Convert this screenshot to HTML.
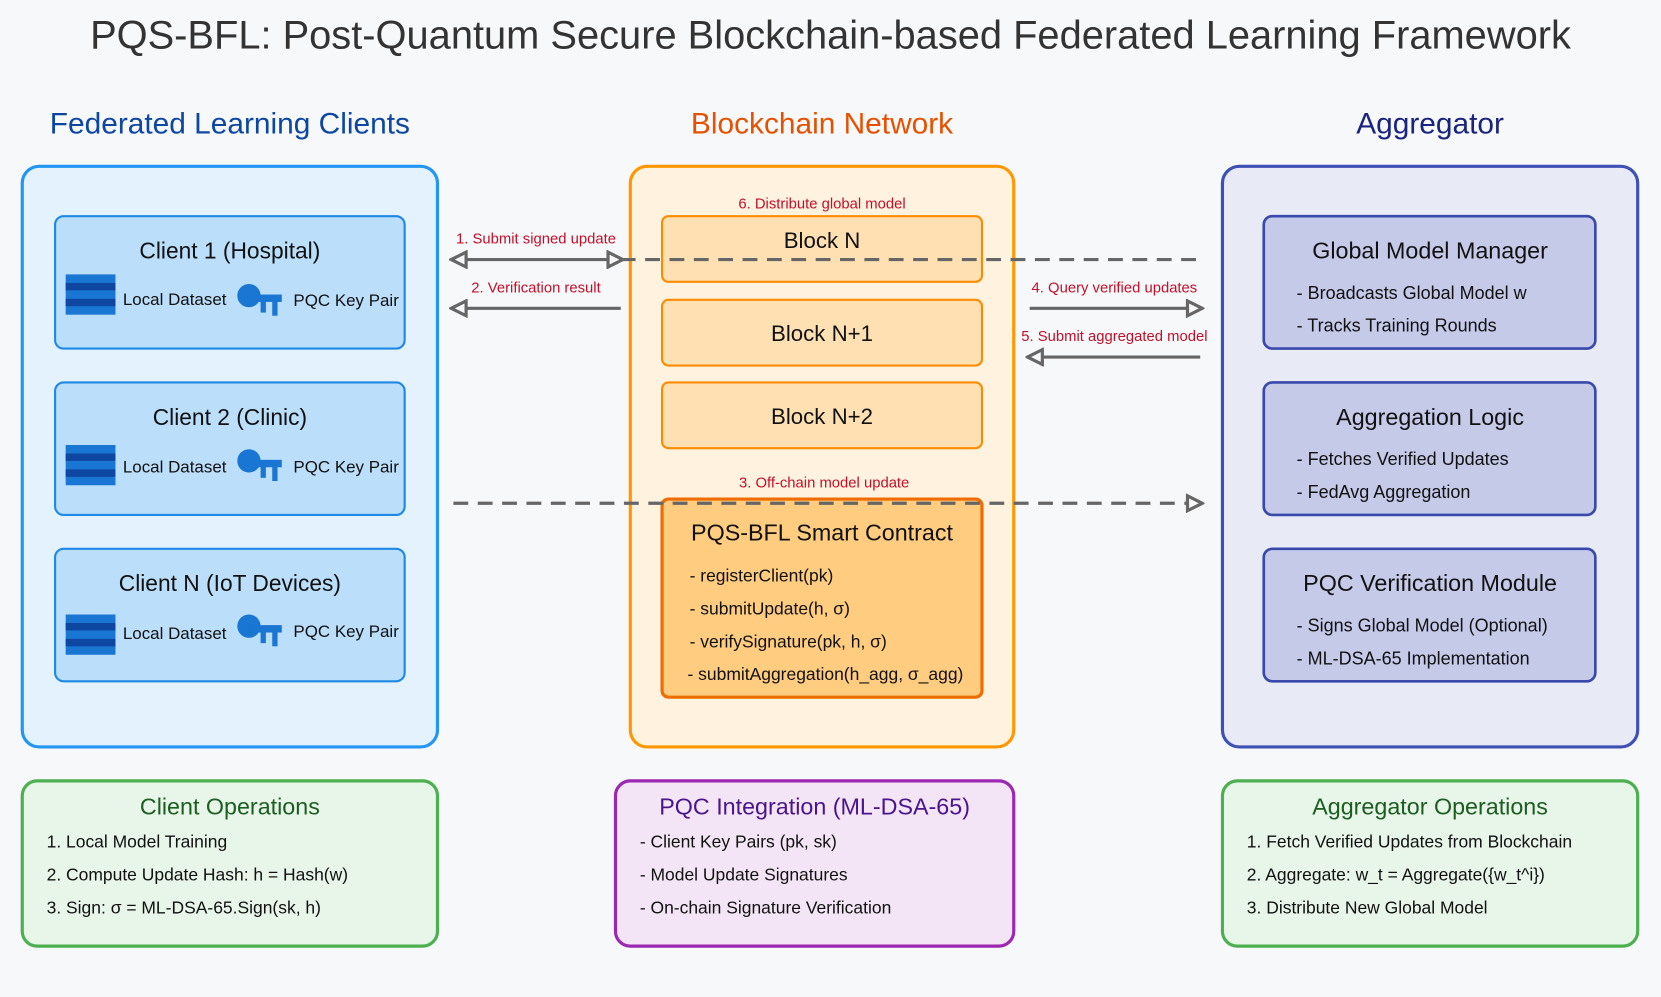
<!DOCTYPE html>
<html><head><meta charset="utf-8"><style>
html,body{margin:0;padding:0;background:#f7f8fa;}
svg{display:block;font-family:"Liberation Sans",Arial,sans-serif;}
</style></head><body>
<svg width="1661" height="997" viewBox="0 0 1568 941" preserveAspectRatio="none" xmlns="http://www.w3.org/2000/svg">
<defs>
<marker id="ah" markerWidth="18" markerHeight="18" refX="15" refY="9" orient="auto-start-reverse" markerUnits="userSpaceOnUse">
<path d="M2,2 L16,9 L2,16 Z" fill="#f7f8fa" stroke="#666" stroke-width="3"/>
</marker>
</defs>
<rect width="1568" height="941" fill="#f7f8fa"/>
<text x="784" y="46" text-anchor="middle" font-size="37.6" fill="#333">PQS-BFL: Post-Quantum Secure Blockchain-based Federated Learning Framework</text>
<text x="217" y="126" text-anchor="middle" font-size="28.2" fill="#0d47a1">Federated Learning Clients</text>
<text x="776" y="126" text-anchor="middle" font-size="28.2" fill="#e65100">Blockchain Network</text>
<text x="1350" y="126" text-anchor="middle" font-size="28.2" fill="#1a237e">Aggregator</text>

<!-- clients -->
<rect x="21" y="157" width="392" height="548" rx="16" fill="#e3f2fd" stroke="#2196f3" stroke-width="3"/>
<g font-size="16" fill="#111">
<rect x="52" y="204" width="330" height="125" rx="8" fill="#bbdefb" stroke="#1e88e5" stroke-width="2"/>
<text x="217" y="244" text-anchor="middle" font-size="21.5">Client 1 (Hospital)</text>
<rect x="62" y="259" width="47" height="38" fill="#1976d2"/><rect x="62" y="267" width="47" height="7" fill="#0d47a1"/><rect x="62" y="282" width="47" height="7" fill="#0d47a1"/>
<text x="116" y="288">Local Dataset</text>
<circle cx="235" cy="279" r="11" fill="#1976d2"/><rect x="235" y="278" width="31" height="7" fill="#1976d2"/><rect x="246" y="280" width="5" height="15" fill="#1976d2"/><rect x="257" y="280" width="5" height="18" fill="#1976d2"/>
<text x="277" y="289">PQC Key Pair</text>

<rect x="52" y="361" width="330" height="125" rx="8" fill="#bbdefb" stroke="#1e88e5" stroke-width="2"/>
<text x="217" y="401" text-anchor="middle" font-size="21.5">Client 2 (Clinic)</text>
<rect x="62" y="420" width="47" height="38" fill="#1976d2"/><rect x="62" y="428" width="47" height="7" fill="#0d47a1"/><rect x="62" y="443" width="47" height="7" fill="#0d47a1"/>
<text x="116" y="446">Local Dataset</text>
<circle cx="235" cy="435" r="11" fill="#1976d2"/><rect x="235" y="434" width="31" height="7" fill="#1976d2"/><rect x="246" y="436" width="5" height="15" fill="#1976d2"/><rect x="257" y="436" width="5" height="18" fill="#1976d2"/>
<text x="277" y="446">PQC Key Pair</text>

<rect x="52" y="518" width="330" height="125" rx="8" fill="#bbdefb" stroke="#1e88e5" stroke-width="2"/>
<text x="217" y="558" text-anchor="middle" font-size="21.5">Client N (IoT Devices)</text>
<rect x="62" y="580" width="47" height="38" fill="#1976d2"/><rect x="62" y="588" width="47" height="7" fill="#0d47a1"/><rect x="62" y="603" width="47" height="7" fill="#0d47a1"/>
<text x="116" y="603">Local Dataset</text>
<circle cx="235" cy="591" r="11" fill="#1976d2"/><rect x="235" y="590" width="31" height="7" fill="#1976d2"/><rect x="246" y="592" width="5" height="15" fill="#1976d2"/><rect x="257" y="592" width="5" height="18" fill="#1976d2"/>
<text x="277" y="601">PQC Key Pair</text>
</g>

<!-- blockchain -->
<rect x="595" y="157" width="362" height="548" rx="16" fill="#fff3e0" stroke="#ff9800" stroke-width="3"/>
<g font-size="21" fill="#111" text-anchor="middle">
<rect x="625" y="204" width="302" height="62" rx="6" fill="#ffe0b2" stroke="#fb8c00" stroke-width="2"/>
<text x="776" y="234">Block N</text>
<rect x="625" y="283" width="302" height="62" rx="6" fill="#ffe0b2" stroke="#fb8c00" stroke-width="2"/>
<text x="776" y="322">Block N+1</text>
<rect x="625" y="361" width="302" height="62" rx="6" fill="#ffe0b2" stroke="#fb8c00" stroke-width="2"/>
<text x="776" y="400">Block N+2</text>
<rect x="625" y="471" width="302" height="187" rx="6" fill="#ffcc80" stroke="#ef6c00" stroke-width="3"/>
<text x="776" y="510" font-size="22">PQS-BFL Smart Contract</text>
</g>
<g font-size="16.5" fill="#111">
<text x="651" y="549">- registerClient(pk)</text>
<text x="651" y="580">- submitUpdate(h, σ)</text>
<text x="651" y="611">- verifySignature(pk, h, σ)</text>
<text x="649" y="642">- submitAggregation(h_agg, σ_agg)</text>
</g>

<!-- aggregator -->
<rect x="1154" y="157" width="392" height="548" rx="16" fill="#e8eaf6" stroke="#3f51b5" stroke-width="3"/>
<g fill="#111">
<rect x="1193" y="204" width="313" height="125" rx="8" fill="#c5cae9" stroke="#3949ab" stroke-width="2.5"/>
<text x="1350" y="244" text-anchor="middle" font-size="22">Global Model Manager</text>
<text x="1224" y="282" font-size="17">- Broadcasts Global Model w</text>
<text x="1224" y="313" font-size="17">- Tracks Training Rounds</text>
<rect x="1193" y="361" width="313" height="125" rx="8" fill="#c5cae9" stroke="#3949ab" stroke-width="2.5"/>
<text x="1350" y="401" text-anchor="middle" font-size="22">Aggregation Logic</text>
<text x="1224" y="439" font-size="17">- Fetches Verified Updates</text>
<text x="1224" y="470" font-size="17">- FedAvg Aggregation</text>
<rect x="1193" y="518" width="313" height="125" rx="8" fill="#c5cae9" stroke="#3949ab" stroke-width="2.5"/>
<text x="1350" y="558" text-anchor="middle" font-size="22">PQC Verification Module</text>
<text x="1224" y="596" font-size="17">- Signs Global Model (Optional)</text>
<text x="1224" y="627" font-size="17">- ML-DSA-65 Implementation</text>
</g>

<!-- arrows -->
<g stroke="#666" stroke-width="3" fill="none">
<line x1="586" y1="245" x2="1133" y2="245" stroke-dasharray="14,9"/>
<line x1="427" y1="245" x2="587" y2="245" marker-start="url(#ah)" marker-end="url(#ah)"/>
<line x1="586" y1="291" x2="427" y2="291" marker-end="url(#ah)"/>
<line x1="972" y1="291" x2="1134" y2="291" marker-end="url(#ah)"/>
<line x1="1133" y1="337" x2="971" y2="337" marker-end="url(#ah)"/>
<line x1="428" y1="475" x2="1134" y2="475" stroke-dasharray="14,9" marker-end="url(#ah)"/>
</g>
<g font-size="14" fill="#c0102a" text-anchor="middle">
<text x="776" y="197">6. Distribute global model</text>
<text x="506" y="230">1. Submit signed update</text>
<text x="506" y="276">2. Verification result</text>
<text x="1052" y="276">4. Query verified updates</text>
<text x="1052" y="322">5. Submit aggregated model</text>
<text x="778" y="460">3. Off-chain model update</text>
</g>

<!-- bottom -->
<rect x="21" y="737" width="392" height="156" rx="14" fill="#e8f5e9" stroke="#4caf50" stroke-width="3"/>
<text x="217" y="769" text-anchor="middle" font-size="22" fill="#1b5e20">Client Operations</text>
<g font-size="16.5" fill="#111">
<text x="44" y="800">1. Local Model Training</text>
<text x="44" y="831">2. Compute Update Hash: h = Hash(w)</text>
<text x="44" y="862">3. Sign: σ = ML-DSA-65.Sign(sk, h)</text>
</g>
<rect x="581" y="737" width="376" height="156" rx="14" fill="#f3e5f5" stroke="#9c27b0" stroke-width="3"/>
<text x="769" y="769" text-anchor="middle" font-size="22" fill="#4a148c">PQC Integration (ML-DSA-65)</text>
<g font-size="16.5" fill="#111">
<text x="604" y="800">- Client Key Pairs (pk, sk)</text>
<text x="604" y="831">- Model Update Signatures</text>
<text x="604" y="862">- On-chain Signature Verification</text>
</g>
<rect x="1154" y="737" width="392" height="156" rx="14" fill="#e8f5e9" stroke="#4caf50" stroke-width="3"/>
<text x="1350" y="769" text-anchor="middle" font-size="22" fill="#1b5e20">Aggregator Operations</text>
<g font-size="16.5" fill="#111">
<text x="1177" y="800">1. Fetch Verified Updates from Blockchain</text>
<text x="1177" y="831">2. Aggregate: w_t = Aggregate({w_t^i})</text>
<text x="1177" y="862">3. Distribute New Global Model</text>
</g>
</svg>
</body></html>
